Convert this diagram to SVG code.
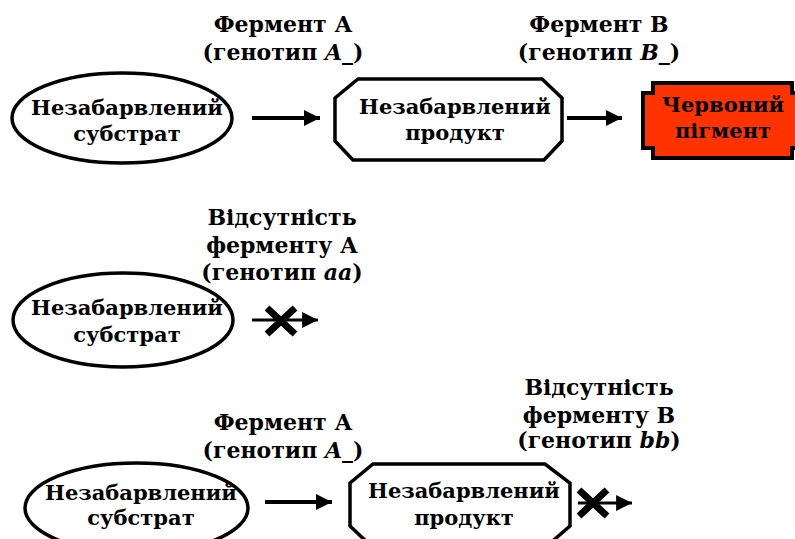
<svg xmlns="http://www.w3.org/2000/svg" width="795" height="539" viewBox="0 0 795 539">
<defs>
<style>
.t{font-family:"DejaVu Serif","Liberation Serif",serif;font-weight:bold;font-size:21px;fill:#000;text-anchor:middle}
.l{font-size:22px}
.i{font-style:italic}
.sh{fill:#fff;stroke:#000;stroke-width:3.5}
.red{fill:#FF3300;stroke:#000;stroke-width:4}
.ln{stroke:#000;stroke-width:4;fill:none}
.ln2{stroke:#000;stroke-width:3;fill:none}
.x{stroke:#000;stroke-width:7;fill:none}
</style>
<marker id="ah" viewBox="0 0 10 10" refX="10" refY="5" markerWidth="4" markerHeight="4.4" orient="auto" markerUnits="strokeWidth">
<path d="M0,0 L10,5 L0,10 Z" fill="#000"/>
</marker>
<marker id="ah2" viewBox="0 0 10 10" refX="10" refY="5" markerWidth="5.3" markerHeight="5.3" orient="auto" markerUnits="strokeWidth">
<path d="M0,0 L10,5 L0,10 Z" fill="#000"/>
</marker>
</defs>

<g id="connectors">
<line class="ln" x1="252" y1="118" x2="320" y2="118" marker-end="url(#ah)"/>
<line class="ln" x1="567" y1="118" x2="622" y2="118" marker-end="url(#ah)"/>
<line class="ln2" x1="252" y1="320" x2="318" y2="320" marker-end="url(#ah2)"/>
<path class="x" d="M267,308 L295,334 M295,308 L267,334"/>
<line class="ln" x1="265" y1="502" x2="332" y2="502" marker-end="url(#ah)"/>
<line class="ln2" x1="578" y1="503" x2="632" y2="503" marker-end="url(#ah2)"/>
<path class="x" d="M579,490 L607,516 M607,490 L579,516"/>
</g>

<g id="label-a1">
<text class="t l" x="283" y="32">Фермент А</text>
<text class="t l" x="283" y="60">(генотип <tspan class="i">A_</tspan>)</text>
</g>
<g id="label-b1">
<text class="t l" x="599" y="32">Фермент В</text>
<text class="t l" x="599" y="60">(генотип <tspan class="i">B_</tspan>)</text>
</g>
<g id="label-a2">
<text class="t l" x="282" y="225">Відсутність</text>
<text class="t l" x="282" y="253">ферменту А</text>
<text class="t l" x="282" y="280">(генотип <tspan class="i">aa</tspan>)</text>
</g>
<g id="label-a3">
<text class="t l" x="283" y="430">Фермент А</text>
<text class="t l" x="283" y="458">(генотип <tspan class="i">A_</tspan>)</text>
</g>
<g id="label-b3">
<text class="t l" x="599" y="395">Відсутність</text>
<text class="t l" x="599" y="423">ферменту В</text>
<text class="t l" x="599" y="448">(генотип <tspan class="i">bb</tspan>)</text>
</g>

<g id="substrate1">
<ellipse class="sh" cx="122" cy="118" rx="110" ry="45"/>
<text class="t" x="127" y="115">Незабарвлений</text>
<text class="t" x="127" y="141">субстрат</text>
</g>
<g id="product1">
<path class="sh" d="M358,79 H542 L562,98 V141 L544,160 H353 L335,141 V98 Z"/>
<text class="t" x="455" y="114">Незабарвлений</text>
<text class="t" x="455" y="140">продукт</text>
</g>
<g id="pigment">
<path class="red" d="M653,83 H792 V93 H802 V148 H792 V158 H653 V148 H643 V93 H653 Z"/>
<text class="t" x="723" y="112">Червоний</text>
<text class="t" x="723" y="138">пігмент</text>
</g>

<g id="substrate2">
<ellipse class="sh" cx="123" cy="320" rx="110" ry="47"/>
<text class="t" x="127" y="315">Незабарвлений</text>
<text class="t" x="127" y="342">субстрат</text>
</g>

<g id="substrate3">
<ellipse class="sh" cx="136.5" cy="508" rx="111.5" ry="45"/>
<text class="t" x="141" y="500">Незабарвлений</text>
<text class="t" x="141" y="525">субстрат</text>
</g>
<g id="product3">
<path class="sh" d="M373,464 H545 L570,483 V526 L548,545 H370 L350,526 V483 Z"/>
<text class="t" x="464" y="498">Незабарвлений</text>
<text class="t" x="464" y="525">продукт</text>
</g>
</svg>
